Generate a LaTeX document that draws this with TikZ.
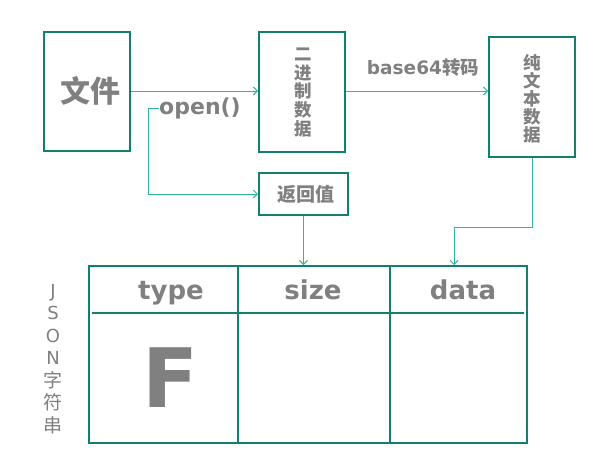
\documentclass[tikz,border=0pt]{standalone}
\usepackage{fontspec}
\setmainfont{DejaVu Sans}
\newfontfamily\cjk{Noto Sans CJK SC}
\usetikzlibrary{arrows.meta}
\definecolor{boxc}{HTML}{12806F}
\definecolor{linec}{HTML}{2DB89C}
\definecolor{txt}{HTML}{808080}
\tikzset{
  box/.style={draw=boxc, line width=2pt, minimum width=86pt, inner sep=0pt},
  boxtext/.style={text=txt, inner sep=0pt, align=center},
  conn/.style={draw=linec, line width=1pt, -{Straight Barb[length=4pt,width=8pt]}},
  lbl/.style={text=txt, font=\bfseries, inner sep=0pt},
}
\begin{document}
\begin{tikzpicture}[x=1pt,y=-1pt]
\useasboundingbox (0,0) rectangle (613,458);
% boxes
\node[box, minimum height=119pt] (file) at (87,91.5) {};
\node[boxtext, font=\cjk\bfseries\fontsize{30}{31}\selectfont] (filet) at (90,91) {文件};
\node[box, minimum height=120pt] (bin) at (302,92) {};
\node[boxtext, font=\cjk\bfseries\fontsize{17.5}{18.8}\selectfont] (bint) at (303.5,92.5) {二\\进\\制\\数\\据};
\node[box, minimum height=120pt] (txtd) at (532,97) {};
\node[boxtext, font=\cjk\bfseries\fontsize{17.5}{18}\selectfont] (txtdt) at (532.5,98.5) {纯\\文\\本\\数\\据};
\node[box, minimum width=89pt, minimum height=42pt] (ret) at (303.5,194) {};
\node[boxtext, font=\cjk\bfseries\fontsize{19}{20}\selectfont] (rett) at (306,194) {返回值};
% table
\node[draw=boxc, line width=2pt, minimum width=438pt, minimum height=177pt, inner sep=0pt] (tbl) at (308,354.5) {};
\draw[boxc, line width=2pt] (238,266) -- (238,443) (390,266) -- (390,443);
\draw[boxc, line width=2pt] (92,313) -- (524,313);
\node[lbl, anchor=base, font=\bfseries\fontsize{26}{28}\selectfont] (ht) at (171,299) {type};
\node[lbl, anchor=base, font=\bfseries\fontsize{26}{28}\selectfont] (hs) at (313,299) {size};
\node[lbl, anchor=base, font=\bfseries\fontsize{26}{28}\selectfont] (hd) at (463,299) {data};
\node[lbl, anchor=base, font=\bfseries\fontsize{82}{84}\selectfont] (F) at (171,407) {F};
% side label
\node[text=txt, inner sep=0pt, align=center, font=\fontsize{18}{22.5}\selectfont] (json) at (53,359) {J\\S\\O\\N\\{\cjk\fontsize{19}{22.5}\selectfont 字}\\{\cjk\fontsize{19}{22.5}\selectfont 符}\\{\cjk\fontsize{19}{22.5}\selectfont 串}};
% labels
\node[lbl, font=\bfseries\fontsize{22}{24}\selectfont] (open) at (200,108) {open()};
\node[lbl, font=\bfseries\fontsize{18.5}{20}\selectfont] (b64) at (423,68) {base64{\cjk 转码}};
% connectors
\draw[conn] (file.east |- 0,91) -- (bin.west |- 0,91);
\draw[conn] (bin.east |- 0,91) -- (txtd.west |- 0,91);
\coordinate (oc) at (148,108);
\draw[conn] (open.west) -- (oc) -- (oc |- ret.west) -- (ret.west);
\draw[conn] (ret.south) -- (ret.south |- tbl.north);
\coordinate (tb) at (454,227);
\draw[conn] (txtd.south) -- (txtd.south |- tb) -- (tb) -- (tb |- tbl.north);
\end{tikzpicture}
\end{document}
